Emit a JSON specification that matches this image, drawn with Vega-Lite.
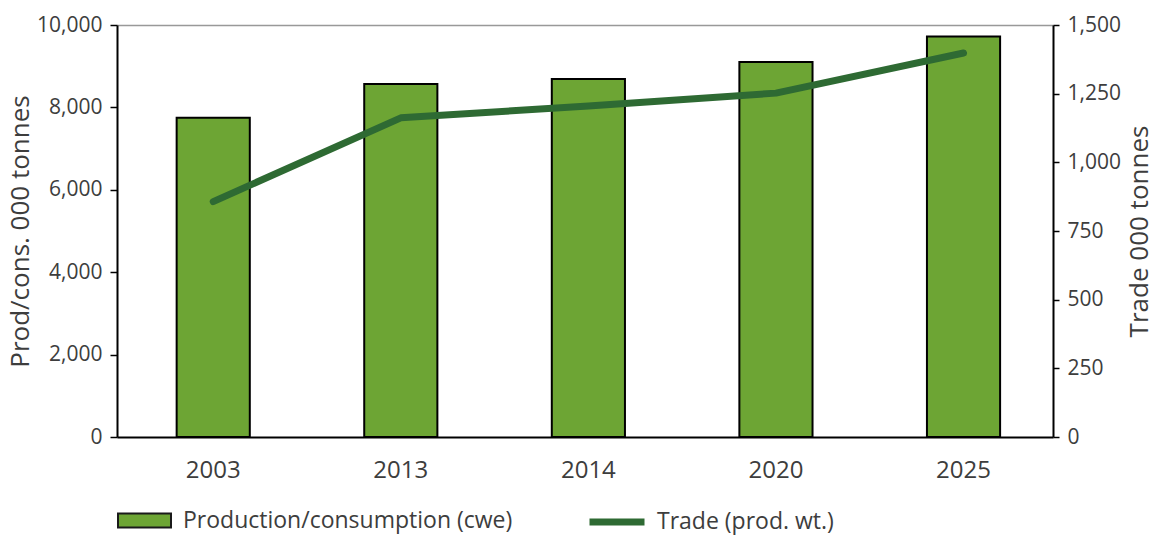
{
  "$schema": "https://vega.github.io/schema/vega-lite/v6.json",
  "width": 936,
  "height": 412,
  "autosize": {"type": "none"},
  "padding": {"left": 117, "top": 25, "right": 103, "bottom": 99},
  "background": "white",
  "config": {
    "view": {"stroke": null},
    "font": "Open Sans",
    "axis": {"labelFont": "Open Sans", "titleFont": "Open Sans", "labelColor": "#3d3d3d", "titleColor": "#3d3d3d"},
    "legend": {"labelFont": "Open Sans", "labelColor": "#3d3d3d", "labelLimit": 0}
  },
  "data": {
    "values": [
      {"year": "2003", "prod": 7750, "trade": 857},
      {"year": "2013", "prod": 8570, "trade": 1162},
      {"year": "2014", "prod": 8690, "trade": 1205},
      {"year": "2020", "prod": 9100, "trade": 1252},
      {"year": "2025", "prod": 9720, "trade": 1398}
    ]
  },
  "encoding": {
    "x": {
      "field": "year",
      "type": "nominal",
      "sort": null,
      "scale": {"paddingInner": 0.61, "paddingOuter": 0.3, "align": 0.53},
      "axis": {
        "title": null,
        "labelAngle": 0,
        "ticks": false,
        "domainColor": "black",
        "domainWidth": 2,
        "labelFontSize": 24,
        "labelPadding": 21
      }
    }
  },
  "layer": [
    {
      "mark": {"type": "bar", "stroke": "black", "strokeWidth": 2},
      "encoding": {
        "y": {
          "field": "prod",
          "type": "quantitative",
          "scale": {"domain": [0, 10000]},
          "axis": {
            "title": "Prod/cons. 000 tonnes",
            "values": [0, 2000, 4000, 6000, 8000, 10000],
            "format": ",.0f",
            "titleFontSize": 26,
            "titleFontWeight": "normal",
            "titlePadding": 3,
            "labelFontSize": 21,
            "labelPadding": 8,
            "tickSize": 7,
            "tickColor": "black",
            "tickWidth": 1.5,
            "domainColor": "black",
            "domainWidth": 2,
            "grid": true,
            "gridColor": "#999999",
            "gridWidth": 1.5,
            "gridOpacity": {"condition": {"test": "datum.value === 10000", "value": 1}, "value": 0}
          }
        },
        "fill": {
          "datum": "Production/consumption (cwe)",
          "scale": {"range": ["#6da534"]},
          "legend": {
            "title": null,
            "orient": "none",
            "legendX": 0,
            "legendY": 468,
            "symbolType": "M-1,-0.26H1V0.26H-1Z",
            "symbolSize": 2809,
            "symbolStrokeColor": "#1a1a1a",
            "symbolStrokeWidth": 2,
            "symbolFillColor": "#6da534",
            "labelFontSize": 23,
            "labelOffset": 11
          }
        }
      }
    },
    {
      "mark": {"type": "line", "strokeWidth": 7, "strokeCap": "round", "strokeJoin": "round"},
      "encoding": {
        "y": {
          "field": "trade",
          "type": "quantitative",
          "scale": {"domain": [0, 1500]},
          "axis": {
            "orient": "right",
            "title": "Trade 000 tonnes",
            "values": [0, 250, 500, 750, 1000, 1250, 1500],
            "format": ",.0f",
            "titleAngle": -90,
            "titleBaseline": "top",
            "titleFontSize": 26,
            "titleFontWeight": "normal",
            "titlePadding": 6,
            "labelFontSize": 21,
            "labelPadding": 8,
            "tickSize": 6,
            "tickColor": "black",
            "tickWidth": 1.5,
            "domainColor": "black",
            "domainWidth": 2,
            "grid": false
          }
        },
        "stroke": {
          "datum": "Trade (prod. wt.)",
          "scale": {"range": ["#2e6a33"]},
          "legend": {
            "title": null,
            "orient": "none",
            "legendX": 469,
            "legendY": 466,
            "symbolType": "stroke",
            "symbolSize": 3025,
            "symbolStrokeWidth": 7,
            "labelFontSize": 23,
            "labelOffset": 9
          }
        }
      }
    }
  ],
  "resolve": {"scale": {"y": "independent", "fill": "independent", "stroke": "independent"}}
}
